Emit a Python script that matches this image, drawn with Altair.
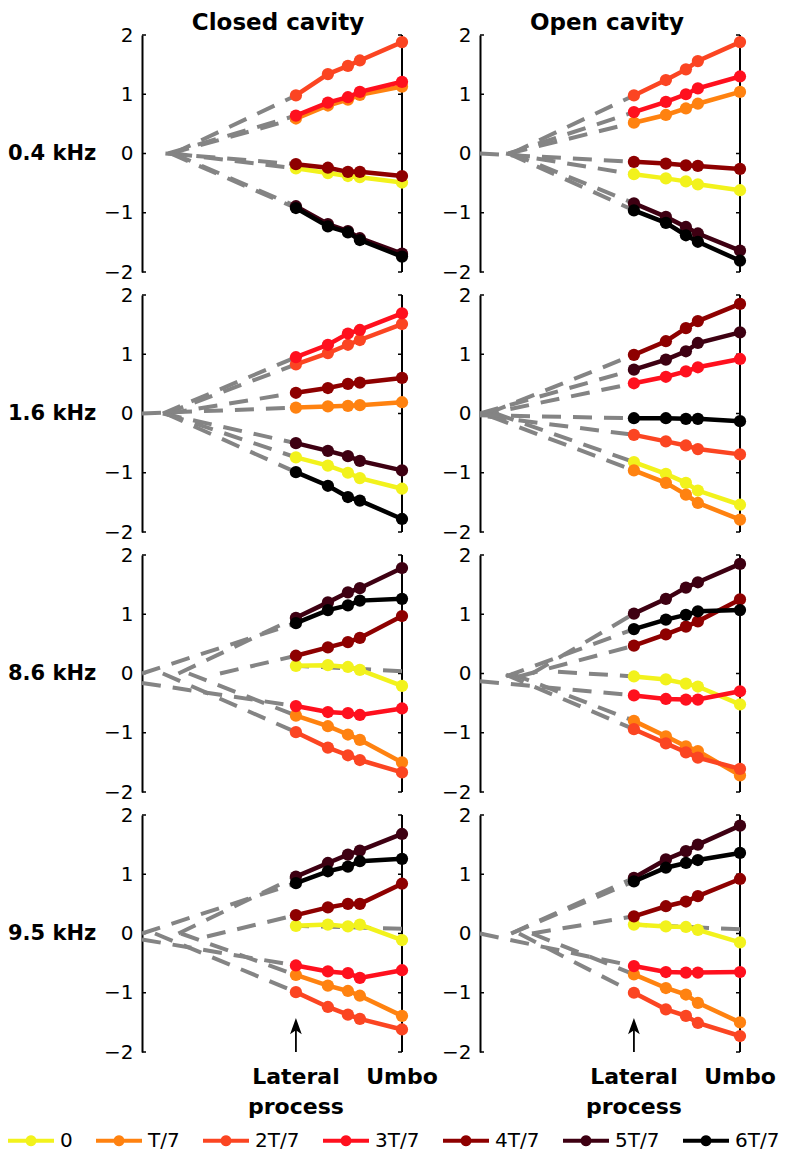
import math
import altair as alt
import pandas as pd

# ---------------- data ----------------
SERIES = ["0", "T/7", "2T/7", "3T/7", "4T/7", "5T/7", "6T/7"]
COLORS = ["#f2f21c", "#ff8210", "#fb4522", "#ff101e", "#8e0000", "#3e0012", "#000000"]
FREQS = ["0.4 kHz", "1.6 kHz", "8.6 kHz", "9.5 kHz"]
CAVITIES = ["Closed cavity", "Open cavity"]
POSITIONS = [0.592, 0.715, 0.792, 0.838, 1.0]
Y_TICKS = [-2, -1, 0, 1, 2]
SITE_LABELS = ["Lateral\nprocess", "Umbo"]
SITE_POS = [0.592, 1.0]

# values per panel: one list of 5 values per series (order of SERIES)
closed_04 = [
    [-0.25, -0.33, -0.38, -0.40, -0.49],
    [0.59, 0.81, 0.91, 0.99, 1.13],
    [0.98, 1.34, 1.48, 1.57, 1.88],
    [0.64, 0.86, 0.95, 1.04, 1.21],
    [-0.18, -0.24, -0.31, -0.31, -0.38],
    [-0.89, -1.19, -1.31, -1.43, -1.69],
    [-0.92, -1.23, -1.33, -1.46, -1.74],
]
open_04 = [
    [-0.35, -0.42, -0.47, -0.52, -0.62],
    [0.52, 0.65, 0.76, 0.84, 1.04],
    [0.98, 1.24, 1.42, 1.56, 1.88],
    [0.70, 0.87, 1.00, 1.10, 1.30],
    [-0.14, -0.17, -0.20, -0.21, -0.26],
    [-0.84, -1.07, -1.24, -1.35, -1.64],
    [-0.96, -1.17, -1.38, -1.49, -1.81],
]
closed_16 = [
    [-0.74, -0.88, -1.00, -1.09, -1.27],
    [0.10, 0.12, 0.13, 0.14, 0.19],
    [0.83, 1.02, 1.16, 1.24, 1.51],
    [0.95, 1.16, 1.35, 1.41, 1.69],
    [0.35, 0.43, 0.50, 0.52, 0.60],
    [-0.50, -0.63, -0.72, -0.80, -0.96],
    [-0.99, -1.22, -1.41, -1.47, -1.78],
]
open_16 = [
    [-0.82, -1.02, -1.17, -1.30, -1.54],
    [-0.96, -1.17, -1.37, -1.51, -1.79],
    [-0.36, -0.47, -0.54, -0.60, -0.69],
    [0.51, 0.62, 0.71, 0.78, 0.92],
    [0.99, 1.22, 1.44, 1.56, 1.85],
    [0.74, 0.91, 1.05, 1.19, 1.37],
    [-0.08, -0.08, -0.09, -0.09, -0.13],
]
closed_86 = [
    [0.13, 0.14, 0.11, 0.06, -0.21],
    [-0.71, -0.89, -1.03, -1.12, -1.50],
    [-0.99, -1.25, -1.38, -1.46, -1.67],
    [-0.55, -0.65, -0.67, -0.70, -0.59],
    [0.30, 0.44, 0.53, 0.60, 0.97],
    [0.94, 1.20, 1.37, 1.44, 1.78],
    [0.85, 1.07, 1.15, 1.23, 1.26],
]
open_86 = [
    [-0.05, -0.10, -0.17, -0.22, -0.52],
    [-0.80, -1.06, -1.23, -1.31, -1.72],
    [-0.94, -1.18, -1.33, -1.42, -1.61],
    [-0.37, -0.43, -0.44, -0.44, -0.30],
    [0.47, 0.66, 0.79, 0.88, 1.25],
    [1.01, 1.26, 1.45, 1.54, 1.85],
    [0.75, 0.91, 0.99, 1.05, 1.07],
]
closed_95 = [
    [0.13, 0.15, 0.12, 0.15, -0.11],
    [-0.70, -0.88, -0.97, -1.05, -1.39],
    [-0.99, -1.24, -1.37, -1.44, -1.62],
    [-0.54, -0.64, -0.67, -0.75, -0.62],
    [0.31, 0.44, 0.50, 0.50, 0.84],
    [0.96, 1.19, 1.33, 1.40, 1.68],
    [0.85, 1.05, 1.13, 1.22, 1.26],
]
open_95 = [
    [0.15, 0.12, 0.11, 0.06, -0.15],
    [-0.69, -0.92, -1.03, -1.17, -1.50],
    [-1.00, -1.28, -1.39, -1.51, -1.73],
    [-0.55, -0.65, -0.66, -0.66, -0.65],
    [0.29, 0.46, 0.54, 0.63, 0.92],
    [0.94, 1.25, 1.39, 1.50, 1.82],
    [0.88, 1.11, 1.19, 1.24, 1.36],
]

# estimated rotation-axis points (start of the dashed extrapolation lines)
closed_04_ox = [0.12, 0.11, 0.12, 0.10, 0.09, 0.12, 0.11]
closed_04_oy = [0, 0, 0, 0, 0, 0, 0]
open_04_ox = [0.10, 0.11, 0.12, 0.11, 0.0, 0.12, 0.11]
open_04_oy = [0, 0, 0, 0, 0, 0, 0]
closed_16_ox = [0.09, 0.0, 0.09, 0.08, 0.10, 0.08, 0.09]
closed_16_oy = [0, 0, 0, 0, 0, 0, 0]
open_16_ox = [0.06, 0.04, 0.03, 0.0, 0.03, 0.0, 0.0]
open_16_oy = [0.0, -0.05, -0.05, -0.03, 0.0, 0.0, -0.03]
closed_86_ox = [1.0, 0.18, 0.08, 0.0, 0.30, 0.14, 0.0]
closed_86_oy = [0.04, 0.0, 0.0, -0.16, 0.0, 0.0, 0.0]
open_86_ox = [0.30, 0.12, 0.10, 0.0, 0.15, 0.20, 0.10]
open_86_oy = [0.03, 0.0, -0.02, -0.13, -0.05, 0.0, -0.05]
closed_95_ox = [1.0, 0.15, 0.05, 0.0, 0.25, 0.14, 0.0]
closed_95_oy = [0.08, 0.0, 0.0, -0.10, -0.05, 0.0, 0.0]
open_95_ox = [1.0, 0.20, 0.15, 0.0, 0.20, 0.12, 0.12]
open_95_oy = [0.07, 0.0, 0.0, 0.0, 0.0, 0.0, 0.0]

PANELS = [
    [(closed_04, closed_04_ox, closed_04_oy), (open_04, open_04_ox, open_04_oy)],
    [(closed_16, closed_16_ox, closed_16_oy), (open_16, open_16_ox, open_16_oy)],
    [(closed_86, closed_86_ox, closed_86_oy), (open_86, open_86_ox, open_86_oy)],
    [(closed_95, closed_95_ox, closed_95_oy), (open_95, open_95_ox, open_95_oy)],
]

# ---------------- styling ----------------
FONT = "DejaVu Sans"
PW, PH = 260, 237
TICK_LEN = 4 / PW
ARROW_HEAD_Y = -1.58
ARROW_SHAFT_TOP = -1.53
HEAD_PATH = "M 0 -1 L 0.65 0.8 L 0 0.35 L -0.65 0.8 Z"
TITLE_DX = [6, -3]

# legend symbol: a short thick line with a dot, drawn in a box 4 units wide
LEG_UNIT = 11.5                      # px per path unit (sqrt(size) / 2)
_r = 5.5 / LEG_UNIT
_h = 2.0 / LEG_UNIT
_circ = " ".join(
    ("M" if i == 0 else "L") + " %.3f %.3f" % (1 + _r * math.cos(2 * math.pi * i / 20),
                                              _r * math.sin(2 * math.pi * i / 20))
    for i in range(20))
LEG_PATH = "M -1 %.3f L 3 %.3f L 3 %.3f L -1 %.3f Z " % (-_h, -_h, _h, _h) + _circ + " Z"

xs = alt.Scale(domain=[0, 1], nice=False, zero=False)
ys = alt.Scale(domain=[-2, 2], nice=False, zero=False)
cs = alt.Scale(domain=SERIES, range=COLORS)
yaxis = alt.Axis(values=Y_TICKS, tickSize=0, labelPadding=9, labelFont=FONT,
                 labelFontSize=20, labelColor="black", domainColor="black",
                 domainWidth=2, grid=False, title=None, labelFlush=False,
                 labelOverlap=False,
                 labelExpr="replace(datum.label, '-', '\u2212')")

legend = alt.Legend(title=None, orient="none", direction="horizontal",
                    legendX=-134, legendY=1094, symbolType=LEG_PATH,
                    symbolSize=(2 * LEG_UNIT) ** 2, symbolStrokeWidth=0, symbolOpacity=1,
                    labelFont=FONT, labelFontSize=20, labelColor="black",
                    labelOffset=2 * LEG_UNIT + 6, columnPadding=23, labelLimit=300)


def X(f):
    return alt.X(f, type="quantitative", scale=xs, axis=None)


def Y(f):
    return alt.Y(f, type="quantitative", scale=ys, axis=yaxis)


def C():
    return alt.Color("series:N", scale=cs, legend=legend)


ticks_df = pd.DataFrame({"t": Y_TICKS})
ticks_df["a0"] = 0.0
ticks_df["a1"] = TICK_LEN
ticks_df["u0"] = SITE_POS[1] - TICK_LEN
ticks_df["u1"] = SITE_POS[1]
umbo_df = pd.DataFrame({"x": [SITE_POS[1]], "lo": [min(Y_TICKS)], "hi": [max(Y_TICKS)]})
arrow_df = pd.DataFrame({"x": [SITE_POS[0]], "lo": [min(Y_TICKS)],
                         "hi": [ARROW_SHAFT_TOP], "head": [ARROW_HEAD_Y]})


def panel(r, c):
    vals, ox, oy = PANELS[r][c]
    layers = []
    layers.append(alt.Chart(umbo_df).mark_rule(color="black", strokeWidth=2).encode(
        x=X("x"), y=Y("lo"), y2=alt.Y2("hi")))
    layers.append(alt.Chart(ticks_df).mark_rule(color="black", strokeWidth=1.5).encode(
        x=X("a0"), x2=alt.X2("a1"), y=Y("t")))
    layers.append(alt.Chart(ticks_df).mark_rule(color="black", strokeWidth=1.5).encode(
        x=X("u0"), x2=alt.X2("u1"), y=Y("t")))
    rows = []
    for s in range(len(SERIES)):
        rows.append({"seg": s, "x": ox[s], "y": oy[s], "o": 0})
        rows.append({"seg": s, "x": POSITIONS[0], "y": vals[s][0], "o": 1})
    layers.append(alt.Chart(pd.DataFrame(rows)).mark_line(
        color="#848484", strokeWidth=4, strokeDash=[19, 12]).encode(
        x=X("x"), y=Y("y"), detail="seg:N", order="o:Q"))
    for s, name in enumerate(SERIES):
        df = pd.DataFrame({"x": POSITIONS, "y": vals[s], "series": name})
        layers.append(alt.Chart(df).mark_line(strokeWidth=4.5).encode(
            x=X("x"), y=Y("y"), color=C()))
        layers.append(alt.Chart(df).mark_circle(size=150, opacity=1).encode(
            x=X("x"), y=Y("y"), color=C()))
    if c == 0:
        ldf = pd.DataFrame({"f": [FREQS[r]], "y": [0]})
        layers.append(alt.Chart(ldf).mark_text(
            align="left", baseline="middle", font=FONT, fontSize=21,
            fontWeight="bold", color="black").encode(
            x=alt.value(-134), y=Y("y"), text="f:N"))
    if r == len(FREQS) - 1:
        layers.append(alt.Chart(arrow_df).mark_rule(color="black", strokeWidth=1.8).encode(
            x=X("x"), y=Y("lo"), y2=alt.Y2("hi")))
        layers.append(alt.Chart(arrow_df).mark_point(shape=HEAD_PATH, filled=True, size=324,
                                                     color="black", opacity=1).encode(
            x=X("x"), y=Y("head")))
        sdf = pd.DataFrame({"x": SITE_POS, "label": SITE_LABELS})
        layers.append(alt.Chart(sdf).mark_text(
            align="center", baseline="top", lineBreak="\n", lineHeight=30, font=FONT,
            fontSize=22, fontWeight="bold", color="black").encode(
            x=X("x"), y=alt.value(PH + 15), text="label:N"))
    ch = alt.layer(*layers).properties(width=PW, height=PH)
    if r == 0:
        ch = ch.properties(title=alt.TitleParams(CAVITIES[c], font=FONT, fontSize=23,
                                                 fontWeight="bold", color="black",
                                                 anchor="middle", frame="group",
                                                 offset=-10, dx=TITLE_DX[c]))
    return ch


panels = [panel(r, c) for r in range(len(FREQS)) for c in range(2)]

chart = (alt.concat(*panels, columns=2, spacing={"row": 23, "column": 78}, bounds="flush")
         .resolve_scale(color="shared")
         .properties(padding={"top": 4, "left": 0, "right": 0, "bottom": 0},
                     background="white")
         .configure_view(stroke=None))

chart.save("out.html", embed_options={"renderer": "svg", "actions": False})
